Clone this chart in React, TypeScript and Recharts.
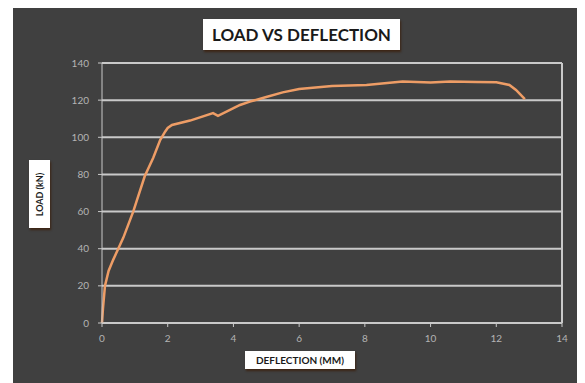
import { CartesianGrid, Line, LineChart, ReferenceLine, XAxis, YAxis } from 'recharts'

// Load–deflection test readings
const deflection = [
  0, 0.03, 0.09, 0.2, 0.34, 0.65, 0.95, 1.3, 1.56, 1.77, 1.92, 2.0, 2.13, 2.68, 3.38, 3.53,
  4.2, 4.5, 5.0, 5.5, 6.0, 7.0, 8.05, 9.15, 10.0, 10.6, 11.4, 12.0, 12.4, 12.6, 12.87,
]
const load = [
  0, 8, 20, 28, 34, 46, 60, 79, 89, 98.5, 103, 105, 106.6, 109, 113, 111.5,
  117.4, 119.2, 121.7, 124.2, 126, 127.6, 128.2, 130, 129.5, 130, 129.8, 129.6, 128.2, 125.5, 120.6,
]
const xTicks = [0, 2, 4, 6, 8, 10, 12, 14]
const yTicks = [0, 20, 40, 60, 80, 100, 120, 140]

const chartData = deflection.map((d, i) => ({ deflection: d, load: load[i] }))

const GRID = '#c9c9c9'
const TICK = { fill: '#b4b4b4', fontSize: 10, fontFamily: 'Lato, sans-serif' }

const boxStyle = {
  position: 'absolute' as const,
  background: '#ffffff',
  color: '#1a1a1a',
  fontFamily: 'Lato, sans-serif',
  fontWeight: 700,
  display: 'flex',
  alignItems: 'center',
  justifyContent: 'center',
  boxShadow: '1px 2px 2px rgba(60,30,10,0.8)',
  whiteSpace: 'nowrap' as const,
}

export default function App() {
  return (
    <div style={{ position: 'relative', marginLeft: 5, width: 572, height: 375, background: '#404040' }}>
      <LineChart
        width={572}
        height={375}
        data={chartData}
        margin={{ top: 55, right: 23, left: 0, bottom: 30 }}
      >
        <CartesianGrid vertical={false} stroke={GRID} strokeWidth={2} />
        <XAxis
          dataKey="deflection"
          type="number"
          domain={[0, 14]}
          ticks={xTicks}
          height={30}
          stroke={GRID}
          tick={TICK}
          tickSize={4}
          tickMargin={8}
        />
        <YAxis
          type="number"
          domain={[0, 140]}
          ticks={yTicks}
          width={89}
          stroke={GRID}
          tick={TICK}
          tickSize={4}
          tickMargin={9}
        />
        <ReferenceLine x={14} stroke={GRID} strokeWidth={2} />
        <Line
          type="linear"
          dataKey="load"
          stroke="#ee9d66"
          strokeWidth={2.5}
          dot={false}
          isAnimationActive={false}
        />
      </LineChart>
      <div style={{ ...boxStyle, left: 190, top: 11, width: 197, height: 31, fontSize: 17 }}>
        LOAD VS DEFLECTION
      </div>
      <div
        style={{
          ...boxStyle,
          left: 16,
          top: 152,
          width: 21,
          height: 68,
          fontSize: 9,
        }}
      >
        <span style={{ transform: 'rotate(-90deg)' }}>LOAD (kN)</span>
      </div>
      <div style={{ ...boxStyle, left: 232, top: 343, width: 110, height: 18, fontSize: 10 }}>
        DEFLECTION (MM)
      </div>
    </div>
  )
}
